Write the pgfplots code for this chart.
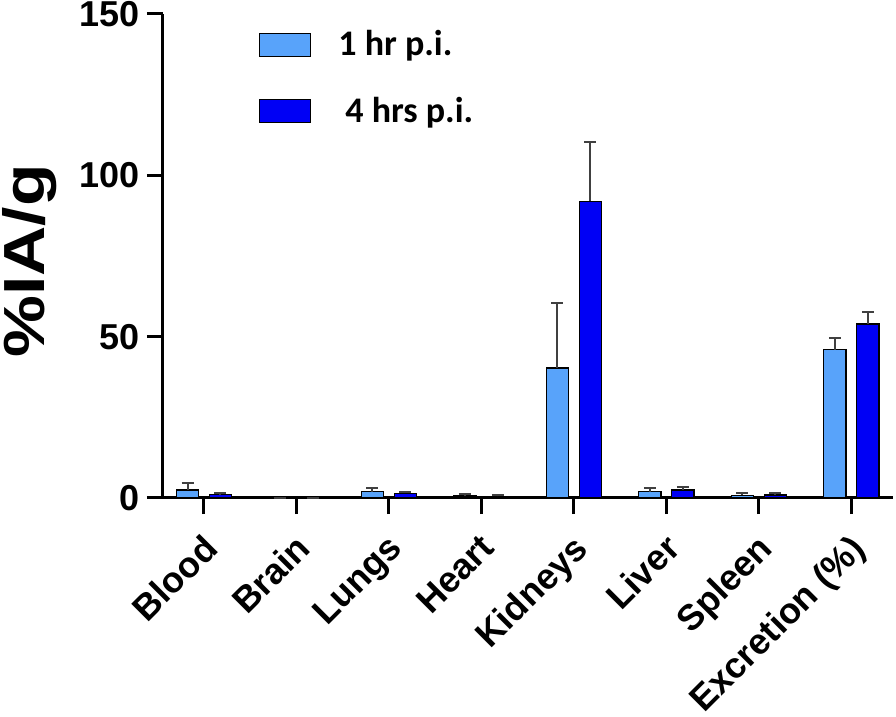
\documentclass[border=0pt]{standalone}
\usepackage{fontspec}
\setmainfont{Liberation Sans}
\newfontfamily\legfont{Carlito}
\usepackage{pgfplots}
\usepackage{pgfplotstable}
\pgfplotsset{compat=1.18}

\definecolor{hrone}{RGB}{88,163,250}
\definecolor{hrfour}{RGB}{0,0,245}

% organ, 1 hr mean/err, 4 hrs mean/err
\pgfplotstableread{
x v1 e1 v4 e4
0 2.5 2.0 1.0 0.4
1 0.0 0.0 0.0 0.0
2 1.9 1.2 1.5 0.5
3 0.6 0.7 0.5 0.4
4 40.3 20.2 92.0 18.3
5 1.9 1.2 2.5 0.9
6 0.8 0.8 0.9 0.5
7 45.9 3.7 53.9 3.7
}\organs

\begin{document}
\begin{tikzpicture}
\path[use as bounding box] (-81.5pt,-109.5pt) rectangle (366.5pt,249pt);
\begin{axis}[
  at={(0,0)}, anchor=south west,
  scale only axis,
  width=365pt, height=242pt,
  ybar, bar width=0.24,
  xmin=-0.443, xmax=7.45,
  ymin=0, ymax=150,
  ytick={0,50,100,150},
  xtick={0,...,7},
  xticklabels={Blood,Brain,Lungs,Heart,Kidneys,Liver,Spleen,Excretion (\%)},
  axis lines=left,
  axis line style={-, line width=1.5pt},
  tick align=outside,
  major tick length=8pt,
  tick style={line width=1.5pt, black},
  /pgf/number format/assume math mode=true,
  yticklabel style={font=\bfseries\fontsize{18}{21}\selectfont},
  xticklabel style={font=\bfseries\fontsize{18}{21}\selectfont, rotate=45, anchor=north east, yshift=-2pt, xshift=-4pt},
  ylabel={\scalebox{1.2}[1]{\%IA/g}},
  every axis y label/.style={at={(axis description cs:-0.183,0.49)}, rotate=90, anchor=center,
    font=\bfseries\fontsize{29}{33}\selectfont},
  legend image code/.code={\draw[#1] (0pt,-5.75pt) rectangle (25.5pt,5.75pt);},
  legend style={at={(0.123,0.975)}, anchor=north west, draw=none, fill=none,
    font=\legfont\bfseries\fontsize{18}{21}\selectfont,
    row sep=19pt, nodes={inner sep=0pt, anchor=west},
    /tikz/every odd column/.append style={column sep=13.5pt}},
  legend cell align=left,
  clip=false,
]
\addplot[fill=hrone, draw=black, line width=0.6pt, bar shift=-0.178,
  error bars/.cd, y dir=plus, y explicit,
  error bar style={line width=1pt, black!75},
  error mark options={rotate=90, mark size=3pt, line width=1pt, black!75}]
  table[x=x, y=v1, y error=e1] {\organs};
\addlegendentry{1 hr p.i.}
\addplot[fill=hrfour, draw=black, line width=0.6pt, bar shift=0.178,
  error bars/.cd, y dir=plus, y explicit,
  error bar style={line width=1pt, black!75},
  error mark options={rotate=90, mark size=3pt, line width=1pt, black!75}]
  table[x=x, y=v4, y error=e4] {\organs};
\addlegendentry{\hspace{3.5pt}4 hrs p.i.}
\end{axis}
\end{tikzpicture}
\end{document}
